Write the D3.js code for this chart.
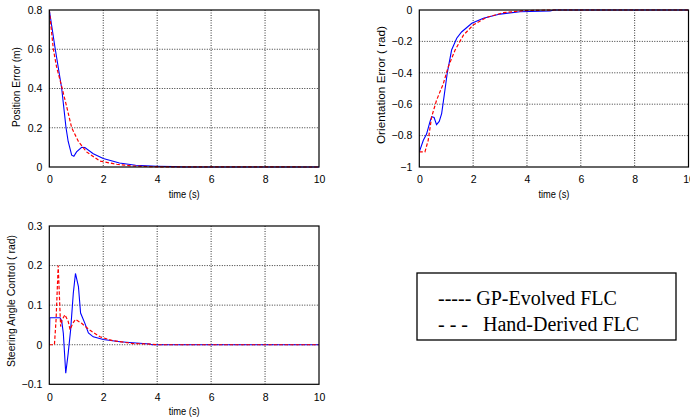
<!DOCTYPE html>
<html><head><meta charset="utf-8">
<script src="https://cdn.jsdelivr.net/npm/d3@7"></script>
<style>
body{margin:0;background:#fff;}
svg{display:block;}
text{font-family:Arial,"Liberation Sans",sans-serif;}
text.leg{font-family:"Liberation Serif","Times New Roman",serif;white-space:pre;}
</style></head>
<body>
<script>
// ---- Data ----
const xTicks = [0, 2, 4, 6, 8, 10];
const posTicks = [0, 0.2, 0.4, 0.6, 0.8];
const oriTicks = [-1, -0.8, -0.6, -0.4, -0.2, 0];
const steerTicks = [-0.1, 0, 0.1, 0.2, 0.3];

const posGpT = [0, 0.21, 0.46, 0.62, 0.70, 0.83, 0.91, 1.01, 1.2, 1.32, 1.63, 2.0, 2.6, 3.2, 4.0, 4.6, 5.0, 10];
const posGpV = [0.8, 0.61, 0.40, 0.20, 0.13, 0.06, 0.055, 0.077, 0.10, 0.099, 0.068, 0.043, 0.02, 0.009, 0.004, 0.002, 0, 0];
const posHdT = [0, 0.15, 0.27, 0.46, 0.64, 0.83, 1.08, 1.38, 1.88, 2.5, 3.1, 4.0, 10];
const posHdV = [0.8, 0.6, 0.51, 0.41, 0.31, 0.20, 0.13, 0.077, 0.03, 0.014, 0.005, 0.001, 0];

const oriGpT = [0, 0.15, 0.27, 0.4, 0.46, 0.55, 0.64, 0.74, 0.83, 0.92, 1.04, 1.2, 1.39, 1.57, 1.95, 2.38, 3.0, 3.74, 4.86, 5.0, 10];
const oriGpV = [-0.904, -0.83, -0.79, -0.71, -0.68, -0.685, -0.73, -0.71, -0.66, -0.55, -0.40, -0.255, -0.18, -0.14, -0.085, -0.053, -0.026, -0.011, -0.006, 0, 0];
const oriHdT = [0, 0.21, 0.33, 0.46, 0.64, 0.89, 1.08, 1.33, 1.64, 2.0, 2.5, 3.12, 3.87, 5.0, 10];
const oriHdV = [-0.904, -0.904, -0.83, -0.68, -0.575, -0.47, -0.36, -0.255, -0.16, -0.096, -0.047, -0.017, -0.004, 0, 0];

const stGpT = [0, 0.02, 0.2, 0.4, 0.46, 0.52, 0.61, 0.70, 0.79, 0.89, 0.97, 1.08, 1.16, 1.32, 1.45, 1.63, 2.0, 2.62, 3.1, 3.73, 3.8, 10];
const stGpV = [0, 0.068, 0.068, 0.068, 0.06, 0.029, -0.072, -0.022, 0.037, 0.13, 0.18, 0.147, 0.08, 0.054, 0.03, 0.02, 0.013, 0.0076, 0.005, 0.002, 0, 0];
const stHdT = [0, 0.19, 0.25, 0.33, 0.42, 0.47, 0.58, 0.70, 0.77, 0.87, 0.97, 1.2, 1.5, 1.88, 2.37, 3.1, 3.73, 4.0, 10];
const stHdV = [0, 0, 0.062, 0.20, 0.046, 0.062, 0.076, 0.059, 0.038, 0.054, 0.064, 0.054, 0.037, 0.02, 0.01, 0.003, 0.0017, 0, 0];

const legendLabels = ["----- GP-Evolved FLC", "- - -   Hand-Derived FLC"];

// ---- Drawing ----
const svg = d3.select("body").append("svg").attr("width", 690).attr("height", 418);

function panel(opt) {
  const x = d3.scaleLinear().domain([0, 10]).range([opt.left, opt.right]);
  const y = d3.scaleLinear().domain(opt.domain).range([opt.bottom, opt.top]);
  const g = svg.append("g");
  // grid
  g.selectAll(".gx").data(xTicks.slice(1, -1)).join("line")
    .attr("x1", d => x(d)).attr("x2", d => x(d)).attr("y1", opt.top).attr("y2", opt.bottom)
    .attr("stroke", "#000").attr("stroke-width", 0.8).attr("stroke-dasharray", "1,1.5");
  g.selectAll(".gy").data(opt.ticks.slice(1, -1)).join("line")
    .attr("x1", opt.left).attr("x2", opt.right).attr("y1", d => y(d)).attr("y2", d => y(d))
    .attr("stroke", "#000").attr("stroke-width", 0.8).attr("stroke-dasharray", "1,1.5");
  // axes
  const xa = g.append("g").attr("transform", `translate(0,${opt.bottom})`)
    .call(d3.axisBottom(x).tickValues(xTicks).tickSize(0).tickPadding(9).tickFormat(d3.format("d")));
  xa.select(".domain").remove();
  xa.selectAll("text").attr("font-size", 10.5).attr("fill", "#000").attr("font-family", "Arial, 'Liberation Sans', sans-serif");
  const ya = g.append("g").attr("transform", `translate(${opt.left},0)`)
    .call(d3.axisLeft(y).tickValues(opt.ticks).tickSize(0).tickPadding(7).tickFormat(d => d3.format("")(+d.toFixed(2))));
  ya.select(".domain").remove();
  ya.selectAll("text").attr("font-size", 10.5).attr("fill", "#000").attr("font-family", "Arial, 'Liberation Sans', sans-serif");
  // series
  const line = d3.line().x(d => x(d[0])).y(d => y(d[1]));
  const clipId = "c" + Math.round(opt.left) + "_" + Math.round(opt.top);
  svg.append("clipPath").attr("id", clipId).append("rect")
    .attr("x", opt.left).attr("y", opt.top - 2).attr("width", opt.right - opt.left).attr("height", opt.bottom - opt.top + 4);
  g.append("path").datum(d3.zip(opt.gpT, opt.gpV)).attr("d", line)
    .attr("fill", "none").attr("stroke", "#0000ff").attr("stroke-width", 1.1).attr("clip-path", `url(#${clipId})`);
  g.append("path").datum(d3.zip(opt.hdT, opt.hdV)).attr("d", line)
    .attr("fill", "none").attr("stroke", "#ff0000").attr("stroke-width", 1.2).attr("stroke-dasharray", "3.5,2").attr("clip-path", `url(#${clipId})`);
  // frame
  g.append("rect").attr("x", opt.left).attr("y", opt.top)
    .attr("width", opt.right - opt.left).attr("height", opt.bottom - opt.top)
    .attr("fill", "none").attr("stroke", "#000").attr("stroke-width", 1.2);
  // labels
  g.append("text").attr("x", (opt.left + opt.right) / 2).attr("y", opt.bottom + 30.5)
    .attr("text-anchor", "middle").attr("font-size", 10).attr("textLength", 31).attr("lengthAdjust", "spacingAndGlyphs").text("time (s)");
  g.append("text").attr("transform", `translate(${opt.ylx},${opt.yly}) rotate(-90)`)
    .attr("text-anchor", "middle").attr("font-size", opt.ylfs)
    .attr("textLength", opt.ylen).attr("lengthAdjust", "spacingAndGlyphs").text(opt.ylabel);
}

panel({left: 49.3, right: 319, top: 10, bottom: 167, domain: [0, 0.8], ticks: posTicks,
  gpT: posGpT, gpV: posGpV, hdT: posHdT, hdV: posHdV, ylabel: "Position Error (m)",
  ylx: 19.5, yly: 87, ylfs: 10, ylen: 80});
panel({left: 419.3, right: 688.5, top: 10, bottom: 167, domain: [-1, 0], ticks: oriTicks,
  gpT: oriGpT, gpV: oriGpV, hdT: oriHdT, hdV: oriHdV, ylabel: "Orientation Error ( rad)",
  ylx: 385, yly: 85, ylfs: 11, ylen: 118});
panel({left: 49.3, right: 319, top: 226, bottom: 384.3, domain: [-0.1, 0.3], ticks: steerTicks,
  gpT: stGpT, gpV: stGpV, hdT: stHdT, hdV: stHdV, ylabel: "Steering Angle Control ( rad)",
  ylx: 14.5, yly: 301, ylfs: 10.5, ylen: 132});

// legend
const lg = svg.append("g");
lg.append("rect").attr("x", 417).attr("y", 273).attr("width", 259).attr("height", 67)
  .attr("fill", "none").attr("stroke", "#000").attr("stroke-width", 1.3);
lg.selectAll("text.leg").data(legendLabels).join("text").attr("class", "leg")
  .attr("x", 438).attr("y", (d, i) => 305 + i * 26)
  .attr("font-size", 20)
  .attr("xml:space", "preserve").text(d => d);
</script>
</body></html>
